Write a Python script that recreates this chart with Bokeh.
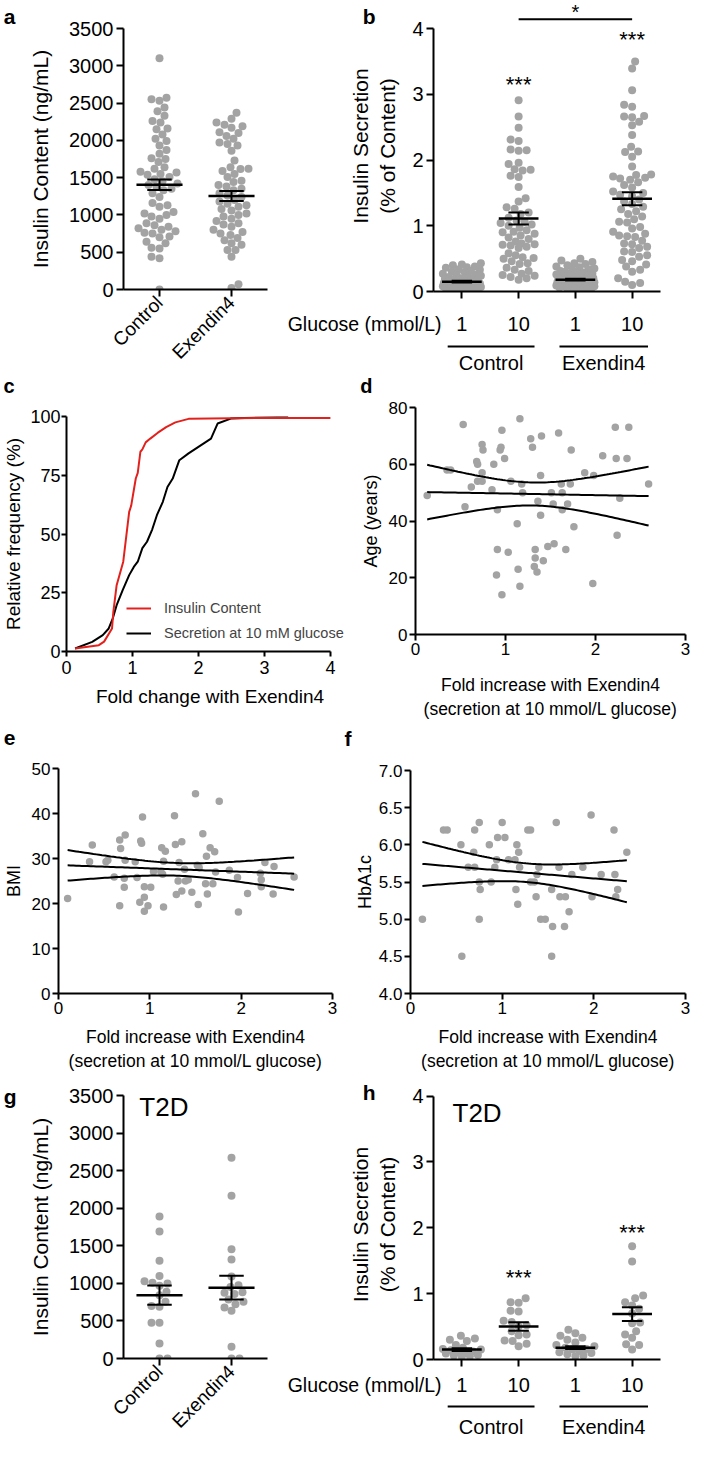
import math
import numpy as np
from bokeh.plotting import figure
from bokeh.layouts import row, column
from bokeh.models import (Range1d, FixedTicker, Label, Legend, LegendItem, NumeralTickFormatter,
                          LinearAxis)
from bokeh.embed import file_html
from bokeh.resources import INLINE
from bokeh.core.properties import value

FONT = "Liberation Sans"
DOT = "#a3a3a3"
RED = "#e3211c"

# ---------------- data ----------------
content_groups = ["Control", "Exendin4"]
glucose_ticks = ["1", "10", "1", "10"]
treatment_groups = ["Control", "Exendin4"]
content_yticks = [0, 500, 1000, 1500, 2000, 2500, 3000, 3500]
secretion_yticks = [0, 1, 2, 3, 4]

a_control = [3100, 2570, 2550, 2530, 2440, 2390, 2330, 2260, 2240, 2160, 2150, 2080, 2020, 1990,
             1930, 1870, 1820, 1760, 1750, 1710, 1640, 1620, 1580, 1570, 1550, 1540, 1510, 1480,
             1450, 1420, 1400, 1380, 1350, 1330, 1290, 1240, 1160, 1130, 1110, 1040, 1020, 1000,
             980, 950, 890, 860, 840, 820, 800, 780, 760, 750, 710, 700, 640, 620, 560, 550,
             440, 420, 0]
a_exendin = [2370, 2290, 2240, 2210, 2190, 2170, 2110, 2100, 2060, 2020, 1970, 1950, 1930, 1860,
             1730, 1640, 1620, 1615, 1590, 1550, 1510, 1460, 1440, 1400, 1380, 1350, 1330, 1290,
             1260, 1240, 1200, 1180, 1150, 1130, 1110, 1080, 1060, 1020, 1000, 980, 950, 920,
             890, 870, 840, 800, 770, 750, 730, 690, 660, 620, 600, 530, 530, 440, 70, 20]
a_mean = [1404, 1254]
a_sem = [70, 66]

b_ctrl_1 = [0.43, 0.41, 0.40, 0.38, 0.37, 0.36, 0.34, 0.33, 0.31, 0.30, 0.29, 0.27, 0.26, 0.25,
            0.24, 0.22, 0.21, 0.20, 0.19, 0.19, 0.18, 0.17, 0.17, 0.16, 0.15, 0.15, 0.14, 0.14,
            0.13, 0.13, 0.12, 0.12, 0.11, 0.11, 0.10, 0.10, 0.10, 0.09, 0.09, 0.08, 0.08, 0.08,
            0.07, 0.07, 0.06, 0.06, 0.05, 0.05, 0.04, 0.04, 0.03, 0.02]
b_ctrl_10 = [2.91, 2.66, 2.49, 2.31, 2.29, 2.16, 2.15, 2.14, 1.96, 1.94, 1.86, 1.85, 1.84, 1.76,
             1.74, 1.59, 1.42, 1.37, 1.28, 1.26, 1.20, 1.18, 1.12, 1.08, 1.06, 1.04, 1.02, 1.00,
             0.97, 0.93, 0.91, 0.90, 0.88, 0.85, 0.82, 0.80, 0.76, 0.73, 0.72, 0.71, 0.70, 0.68,
             0.66, 0.58, 0.55, 0.52, 0.51, 0.50, 0.46, 0.43, 0.42, 0.36, 0.33, 0.31, 0.27, 0.25,
             0.24, 0.22, 0.20, 0.18]
b_ex_1 = [0.50, 0.47, 0.45, 0.43, 0.42, 0.40, 0.38, 0.37, 0.35, 0.34, 0.33, 0.31, 0.30, 0.29,
          0.28, 0.27, 0.26, 0.25, 0.24, 0.23, 0.22, 0.21, 0.20, 0.20, 0.19, 0.18, 0.18, 0.17,
          0.17, 0.16, 0.16, 0.15, 0.15, 0.14, 0.14, 0.13, 0.13, 0.12, 0.12, 0.11, 0.11, 0.10,
          0.10, 0.09, 0.09, 0.08, 0.08, 0.07, 0.07, 0.06, 0.06, 0.05, 0.05, 0.04, 0.03]
b_ex_10 = [3.50, 3.39, 3.06, 2.84, 2.81, 2.67, 2.66, 2.65, 2.58, 2.53, 2.38, 2.20, 2.13, 2.12,
           2.05, 1.90, 1.78, 1.77, 1.75, 1.73, 1.72, 1.70, 1.66, 1.62, 1.58, 1.52, 1.50, 1.47,
           1.45, 1.40, 1.37, 1.33, 1.29, 1.25, 1.22, 1.18, 1.14, 1.10, 1.06, 1.05, 0.98, 0.96,
           0.91, 0.88, 0.85, 0.84, 0.83, 0.77, 0.73, 0.72, 0.68, 0.66, 0.61, 0.60, 0.55, 0.53,
           0.48, 0.46, 0.41, 0.38, 0.33, 0.30, 0.20, 0.15, 0.13, 0.10]
b_mean = [0.15, 1.11, 0.18, 1.41]
b_sem = [0.015, 0.09, 0.013, 0.10]
b_star_y = [3.15, 3.83]
b_bar_y = 4.14

c_content_x = [0.13, 0.49, 0.57, 0.69, 0.71, 0.76, 0.86, 0.95, 0.98, 1.05, 1.08, 1.12, 1.15,
               1.20, 1.27, 1.38, 1.51, 1.65, 1.85, 2.50, 4.00]
c_content_y = [1.3, 2.7, 4.2, 9.8, 16.9, 28.2, 38.2, 59.4, 62, 73.6, 76, 85, 86, 89, 90.6, 93,
               95.5, 97.5, 99, 99.3, 99.4]
c_secr_x = [0.13, 0.39, 0.55, 0.64, 0.70, 0.76, 0.85, 0.95, 1.02, 1.08, 1.15, 1.22, 1.30, 1.37,
            1.46, 1.53, 1.61, 1.71, 1.85, 2.00, 2.19, 2.29, 2.49, 2.80, 3.36]
c_secr_y = [1.3, 4.1, 7, 9.8, 14, 19.7, 26, 32.5, 36, 38.2, 44, 46.7, 52, 58, 63.7, 70, 73.6,
            81.4, 84.3, 87.1, 90.6, 97, 99.1, 99.5, 99.9]

d_fold = [0.13, 0.53, 0.35, 0.39, 0.55, 0.62, 0.68, 0.69, 0.74, 0.75, 0.69, 0.74, 0.74, 0.85,
          0.87, 0.91, 0.90, 0.91, 0.96, 0.94, 0.96, 0.95, 0.99, 1.03, 1.06, 1.14, 1.16, 1.13,
          1.16, 1.18, 1.19, 1.28, 1.30, 1.36, 1.39, 1.40, 1.39, 1.32, 1.33, 1.33, 1.35, 1.42,
          1.47, 1.54, 1.51, 1.53, 1.59, 1.62, 1.63, 1.63, 1.69, 1.67, 1.72, 1.73, 1.76, 1.88,
          1.98, 1.97, 2.08, 2.22, 2.37, 2.23, 2.35, 2.27, 2.24, 2.59]
d_age = [49, 74, 58, 58, 45, 52, 61, 60, 67, 65, 54, 54, 57, 51, 60, 44, 21, 30, 14, 65, 72,
         66, 62, 29, 54, 23, 17, 39, 76, 53, 50, 69, 66, 47, 56, 70, 42, 24, 30, 27, 22, 26,
         31, 32, 50, 46, 71, 53, 50, 44, 46, 30, 53, 65, 38, 57, 56, 18, 63, 73, 73, 62, 62,
         48, 35, 53]

e_fold = [0.10, 0.37, 0.34, 0.52, 0.54, 0.61, 0.67, 0.73, 0.68, 0.73, 0.72, 0.72, 0.67, 0.84,
          0.86, 0.90, 0.91, 0.92, 0.94, 1.01, 0.94, 0.89, 0.98, 0.94, 1.04, 1.12, 1.13, 1.17,
          1.15, 1.14, 1.15, 1.27, 1.28, 1.35, 1.32, 1.31, 1.38, 1.39, 1.42, 1.29, 1.35, 1.46,
          1.52, 1.54, 1.53, 1.50, 1.58, 1.62, 1.66, 1.71, 1.72, 1.61, 1.69, 1.63, 1.76, 1.87,
          1.96, 2.07, 1.97, 2.21, 2.22, 2.22, 2.26, 2.36, 2.35, 2.58]
e_bmi = [21.1, 33.0, 29.3, 29.3, 29.6, 25.9, 34.1, 35.2, 32.2, 29.6, 25.6, 23.6, 19.5, 29.3,
         25.8, 33.9, 33.4, 39.2, 23.7, 23.6, 21.4, 20.3, 19.5, 18.3, 27.1, 27.1, 32.4, 31.6,
         29.4, 26.5, 19.2, 39.5, 33.1, 33.7, 29.1, 25.0, 27.6, 25.0, 25.3, 22.0, 22.8, 22.5,
         28.5, 28.0, 19.8, 44.4, 35.5, 30.5, 32.4, 31.5, 27.0, 24.4, 24.4, 22.1, 42.7, 27.4,
         25.8, 22.2, 18.1, 26.7, 25.3, 23.7, 29.1, 28.2, 22.1, 25.9]

f_fold = [0.13, 0.36, 0.40, 0.55, 0.56, 0.63, 0.70, 0.70, 0.75, 0.69, 0.75, 0.76, 0.75, 0.86,
          0.88, 0.92, 0.94, 0.95, 1.00, 1.03, 1.07, 1.14, 1.16, 1.18, 1.19, 1.15, 1.17, 1.28,
          1.31, 1.31, 1.35, 1.38, 1.37, 1.42, 1.47, 1.40, 1.54, 1.55, 1.54, 1.59, 1.62, 1.63,
          1.69, 1.68, 1.73, 1.76, 1.88, 1.97, 1.98, 2.08, 2.22, 2.23, 2.26, 2.24, 2.36]
f_hba1c = [5.0, 6.2, 6.2, 6.0, 4.5, 5.7, 5.7, 6.2, 6.3, 5.9, 5.5, 5.4, 5.0, 6.0, 5.5, 5.7, 5.8,
           6.1, 6.3, 6.1, 5.8, 5.8, 6.0, 5.9, 5.7, 5.4, 5.2, 6.2, 6.2, 5.5, 5.5, 5.6, 5.3, 5.0,
           5.0, 5.7, 5.4, 4.9, 4.5, 6.3, 5.7, 5.3, 5.3, 4.9, 5.1, 5.6, 5.7, 6.4, 5.3, 5.6, 6.2,
           5.6, 5.4, 5.3, 5.9]

g_control = [1890, 1690, 1300, 1097, 1029, 1007, 998, 967, 887, 843, 754, 700, 688, 475, 475,
             200, 0, 0]
g_exendin = [2670, 2165, 1455, 1318, 1090, 976, 950, 880, 874, 860, 785, 754, 723, 679, 635,
             155, 0, 0]
g_mean = [843, 943]
g_sem = [128, 158]

h_ctrl_1 = [0.36, 0.32, 0.30, 0.28, 0.22, 0.18, 0.16, 0.15, 0.14, 0.12, 0.11, 0.10, 0.09, 0.07,
            0.06, 0.05, 0.04]
h_ctrl_10 = [0.93, 0.87, 0.86, 0.74, 0.73, 0.59, 0.57, 0.52, 0.50, 0.43, 0.38, 0.37, 0.29, 0.28,
             0.24, 0.20]
h_ex_1 = [0.45, 0.40, 0.36, 0.33, 0.30, 0.26, 0.22, 0.20, 0.18, 0.16, 0.15, 0.13, 0.11, 0.10,
          0.08, 0.06, 0.05]
h_ex_10 = [1.72, 1.49, 0.97, 0.93, 0.87, 0.82, 0.77, 0.70, 0.56, 0.55, 0.43, 0.38, 0.33, 0.23,
           0.22, 0.15]
h_mean = [0.15, 0.50, 0.18, 0.69]
h_sem = [0.02, 0.065, 0.02, 0.105]
h_star_y = [1.25, 1.93]


# ---------------- helpers ----------------
def swarm(vals, ypx, diam, maxw):
    ys = np.asarray(vals, float) * ypx
    order = np.argsort(ys, kind="stable")
    cands = sorted(np.arange(-maxw, maxw + 0.001, 1.0), key=lambda c: (abs(c), c))
    px, py = [], []
    out = np.zeros(len(ys))
    for n, i in enumerate(order):
        y = ys[i]
        near = [(a, b) for a, b in zip(px, py) if abs(b - y) < diam]
        chosen, best, best_d = None, 0.0, -1.0
        cl = cands if n % 2 == 0 else [-c for c in cands]
        for c in cl:
            d = min((math.hypot(c - a, y - b) for a, b in near), default=1e9)
            if d >= diam:
                chosen = c
                break
            if d > best_d:
                best_d, best = d, c
        if chosen is None:
            chosen = best
        out[i] = chosen
        px.append(chosen)
        py.append(y)
    return out


def make_fig(w, h, left, right, top, bottom, xr, yr, axes=True):
    kw = {}
    if not axes:
        kw = dict(x_axis_location=None, y_axis_location=None)
    p = figure(width=w, height=h, x_range=xr, y_range=yr, output_backend="svg",
               toolbar_location=None, min_border_left=left, min_border_right=right,
               min_border_top=top, min_border_bottom=bottom, **kw)
    p.outline_line_color = None
    p.xgrid.visible = False
    p.ygrid.visible = False
    p.background_fill_color = "white"
    p.border_fill_color = "white"
    return p


def blank(w, h, xr=None):
    return make_fig(w, h, 0, 0, 0, 0, xr if xr is not None else Range1d(0, w), Range1d(0, h),
                    axes=False)


def solo(p):
    # wrap a figure on its own so that sibling frames are not aligned
    return column(p, spacing=0)


def put_text(p, xs, ys, texts, size, align="center", baseline="middle", bold=False):
    p.text(x=xs, y=ys, text=texts, text_font=value(FONT), text_font_size=f"{size}px",
           text_font_style="bold" if bold else "normal", text_align=align,
           text_baseline=baseline, text_color="black")


def letter_axis(p, t, y, standoff, size=21):
    ax = LinearAxis(ticker=FixedTicker(ticks=[y]), major_label_overrides={y: t})
    ax.axis_line_color = None
    ax.major_tick_line_color = None
    ax.minor_tick_line_color = None
    ax.major_tick_out = 0
    ax.major_tick_in = 0
    ax.major_label_standoff = standoff
    ax.major_label_text_font = FONT
    ax.major_label_text_font_size = f"{size}px"
    ax.major_label_text_font_style = "bold"
    ax.major_label_text_color = "black"
    p.add_layout(ax, "left")


def letter_strip(w, h, t, y_center, left_edge, size, width_em):
    # a thin strip whose only content is the panel letter, drawn as an axis label
    lb = int(round(left_edge + width_em * size))
    p = make_fig(w, h, lb, 0, 0, 0, Range1d(0, 1), Range1d(0, h), axes=False)
    letter_axis(p, t, y_center, 0, size)
    return p


def style_axes(p, tick_px, label_px, tick_out=7, standoff=3, lab_stand=10):
    for ax in p.axis:
        ax.axis_line_width = 2
        ax.axis_line_color = "black"
        ax.major_tick_line_width = 2
        ax.major_tick_line_color = "black"
        ax.major_tick_in = 0
        ax.major_tick_out = tick_out
        ax.minor_tick_line_color = None
        ax.major_label_text_font = FONT
        ax.major_label_text_font_size = f"{tick_px}px"
        ax.major_label_text_color = "black"
        ax.major_label_standoff = standoff
        ax.axis_label_text_font = FONT
        ax.axis_label_text_font_size = f"{label_px}px"
        ax.axis_label_text_font_style = "normal"
        ax.axis_label_text_color = "black"
        ax.axis_label_standoff = lab_stand


def text_label(p, text, x, y, size, align="center", baseline="middle"):
    p.add_layout(Label(x=x, y=y, text=text, text_font=FONT, text_font_size=f"{size}px",
                       text_align=align, text_baseline=baseline, text_color="black"))


def dot_groups(p, groups, ypx, xpx, maxw, size, hw, cap, means, sems):
    for k, vals in enumerate(groups, start=1):
        off = swarm(vals, ypx, size * 0.95, maxw)
        p.scatter(k + off / xpx, vals, size=size, color=DOT, line_color=None)
    xs = np.arange(1, len(means) + 1)
    m = np.array(means, float)
    s = np.array(sems, float)
    p.segment(xs - hw, m, xs + hw, m, line_width=2.5, color="black")
    p.segment(xs, m - s, xs, m + s, line_width=2, color="black")
    p.segment(xs - cap, m + s, xs + cap, m + s, line_width=2, color="black")
    p.segment(xs - cap, m - s, xs + cap, m - s, line_width=2, color="black")


def fit_ci(x, y, t=2.0, n=80):
    x = np.asarray(x, float)
    y = np.asarray(y, float)
    b1, b0 = np.polyfit(x, y, 1)
    xs = np.linspace(x.min(), x.max(), n)
    yh = b0 + b1 * xs
    res = y - (b0 + b1 * x)
    s = math.sqrt((res ** 2).sum() / (len(x) - 2))
    xm = x.mean()
    sxx = ((x - xm) ** 2).sum()
    se = s * np.sqrt(1.0 / len(x) + (xs - xm) ** 2 / sxx)
    return xs, yh, yh - t * se, yh + t * se


# ---- content panels (a, g) ----
def content_panel(h, top, bottom, groups, means, sems, t2d=False):
    p = make_fig(266, h, 107, 15, top, bottom, Range1d(0.5, 2.5), Range1d(0, 3500))
    p.yaxis.ticker = FixedTicker(ticks=content_yticks)
    p.xaxis.ticker = FixedTicker(ticks=[1, 2])
    p.xaxis.major_label_overrides = {i + 1: g for i, g in enumerate(content_groups)}
    p.xaxis.major_label_orientation = math.pi / 4
    p.yaxis.axis_label = "Insulin Content (ng/mL)"
    style_axes(p, 20, 21, tick_out=7, standoff=3, lab_stand=14)
    p.xaxis.major_label_text_font_size = "19px"
    dot_groups(p, groups, 263 / 3500, 72, 21, 8, 0.32, 0.17, means, sems)
    if t2d:
        text_label(p, "T2D", 0.72, 3350, 26, align="left")
    return p


# ---- secretion panels (b, h) ----
SW, SL, SR = 411, 151, 33
S_PPU = (SW - SL - SR) / 4.0
S_X0 = 0.5 - SL / S_PPU
S_X1 = 4.5 + SR / S_PPU


def secretion_panel(h, top, ytop, groups, means, sems, star_y, t2d=False):
    p = make_fig(SW, h, SL, SR, top, 10, Range1d(0.5, 4.5), Range1d(0, ytop))
    p.yaxis.ticker = FixedTicker(ticks=secretion_yticks)
    p.yaxis.bounds = (0, 4)
    p.xaxis.ticker = FixedTicker(ticks=[1, 2, 3, 4])
    p.yaxis.axis_label = "Insulin Secretion\n(% of Content)"
    style_axes(p, 20, 21, tick_out=7, standoff=3, lab_stand=10)
    # tick marks only here; the glucose labels are drawn in the strip below
    p.xaxis.major_label_standoff = 0
    p.xaxis.major_label_text_font_size = "1px"
    p.xaxis.major_label_text_color = None
    dot_groups(p, groups, 65.75, S_PPU, 19, 8, 0.35, 0.18, means, sems)
    text_label(p, "***", 2, star_y[0], 22)
    text_label(p, "***", 4, star_y[1], 22)
    if t2d:
        text_label(p, "T2D", 0.835, 3.74, 26, align="left")
    return p


def group_fig(h, y_ticks, y_line, y_names):
    p = blank(SW, h, xr=Range1d(S_X0, S_X1))
    put_text(p, [1, 2, 3, 4], [y_ticks] * 4, glucose_ticks, 20)
    put_text(p, [0.5 + 8 / S_PPU], [y_ticks], ["Glucose (mmol/L)"], 19.5, align="right")
    x0 = [0.75, 2.72]
    x1 = [2.28, 4.28]
    p.segment(x0=x0, y0=[y_line] * 2, x1=x1, y1=[y_line] * 2, line_width=2, color="black")
    put_text(p, [(a + b) / 2 for a, b in zip(x0, x1)], [y_names] * 2, treatment_groups, 20)
    return p


# ---------------- row 1 (height 373) ----------------
la = letter_strip(16, 373, "a", 357, 2, 21, 0.556)
fa = content_panel(373, 28, 82, [a_control, a_exendin], a_mean, a_sem)

B_TOP = 4 + 28 / 65.75
fb = secretion_panel(301, 0, B_TOP, [b_ctrl_1, b_ctrl_10, b_ex_1, b_ex_10], b_mean, b_sem,
                     b_star_y)
fb.segment(x0=[2], y0=[b_bar_y], x1=[4], y1=[b_bar_y], line_width=2, color="black")
text_label(fb, "*", 3, B_TOP, 20, baseline="top")
letter_axis(fb, "b", 4.19, -30)
fbg = group_fig(72, 50, 27, 11)

# ---------------- row 2 (height 348) ----------------
sc = letter_strip(357, 24, "c", 11.4, 2, 20, 0.556)
fc = make_fig(357, 324, 62, 4, 19, 70, Range1d(0, 4.35), Range1d(0, 100))
fc.xaxis.ticker = FixedTicker(ticks=[0, 1, 2, 3, 4])
fc.xaxis.bounds = (0, 4)
fc.yaxis.ticker = FixedTicker(ticks=[0, 25, 50, 75, 100])
fc.xaxis.axis_label = "Fold change with Exendin4"
fc.yaxis.axis_label = "Relative frequency (%)"
style_axes(fc, 18, 19, tick_out=5, standoff=1, lab_stand=3)
fc.xaxis.major_label_standoff = 4
fc.xaxis.axis_label_standoff = 9
r_sec = fc.line(c_secr_x, c_secr_y, color="black", line_width=2)
r_ins = fc.line(c_content_x, c_content_y, color=RED, line_width=2)
leg = Legend(items=[LegendItem(label="Insulin Content", renderers=[r_ins]),
                    LegendItem(label="Secretion at 10 mM glucose", renderers=[r_sec])],
             location=(60, 8))
leg.label_text_font = FONT
leg.label_text_font_size = "14.5px"
leg.glyph_width = 25
leg.label_standoff = 13
leg.spacing = 5
leg.padding = 0
leg.margin = 0
leg.border_line_color = None
leg.background_fill_alpha = 0
fc.add_layout(leg)


def scatter_panel(w, h, left, right, top, bottom, yr, yticks, x, y, ylabel, fmt=None,
                  lab_stand=10, ylab_stand=5):
    p = make_fig(w, h, left, right, top, bottom, Range1d(0, 3), Range1d(*yr))
    p.xaxis.ticker = FixedTicker(ticks=[0, 1, 2, 3])
    p.yaxis.ticker = FixedTicker(ticks=yticks)
    if fmt:
        p.yaxis.formatter = NumeralTickFormatter(format=fmt)
    p.xaxis.axis_label = "Fold increase with Exendin4\n(secretion at 10 mmol/L glucose)"
    p.yaxis.axis_label = ylabel
    style_axes(p, 17, 18, tick_out=6, standoff=2, lab_stand=ylab_stand)
    p.xaxis.axis_label_text_font_size = "17.5px"
    p.xaxis.axis_label_standoff = lab_stand
    p.scatter(x, y, size=7.5, color=DOT, line_color=None)
    xs, yh, lo, hi = fit_ci(x, y)
    for arr in (yh, lo, hi):
        p.line(xs, arr, color="black", line_width=2)
    return p


sd = letter_strip(336, 24, "d", 11.4, 2, 20, 0.611)
fd = scatter_panel(336, 324, 53, 8, 10, 87, (0, 80), [0, 20, 40, 60, 80], d_fold, d_age,
                   "Age (years)", lab_stand=17)

# ---------------- row 3 (height 352) ----------------
se = letter_strip(340, 30, "e", 13.3, 2, 21, 0.556)
fe = scatter_panel(340, 322, 55, 8, 17, 78, (0, 50), [0, 10, 20, 30, 40, 50], e_fold, e_bmi,
                   "BMI")
sf = letter_strip(353, 30, "f", 13.3, 4, 21, 0.333)
ff = scatter_panel(353, 322, 70, 8, 19, 76, (4, 7), [4, 4.5, 5, 5.5, 6, 6.5, 7], f_fold,
                   f_hba1c, "HbA1c", fmt="0.0", ylab_stand=1)

# ---------------- row 4 (height 373) ----------------
lg = letter_strip(16, 373, "g", 350, 2, 21, 0.611)
fg = content_panel(373, 22, 88, [g_control, g_exendin], g_mean, g_sem, t2d=True)

fh = secretion_panel(296, 16, 4.1, [h_ctrl_1, h_ctrl_10, h_ex_1, h_ex_10], h_mean, h_sem,
                     h_star_y, t2d=True)
letter_axis(fh, "h", 4.05, -30)
fhg = group_fig(77, 62, 40, 20)

layout = column(
    row(solo(la), solo(fa), column(solo(fb), solo(fbg), spacing=0), spacing=0),
    row(column(solo(sc), solo(fc), spacing=0), column(solo(sd), solo(fd), spacing=0), spacing=0),
    row(column(solo(se), solo(fe), spacing=0), column(solo(sf), solo(ff), spacing=0), spacing=0),
    row(solo(lg), solo(fg), column(solo(fh), solo(fhg), spacing=0), spacing=0),
    spacing=0,
)

with open("out.html", "w") as fh_out:
    fh_out.write(file_html(layout, INLINE))
